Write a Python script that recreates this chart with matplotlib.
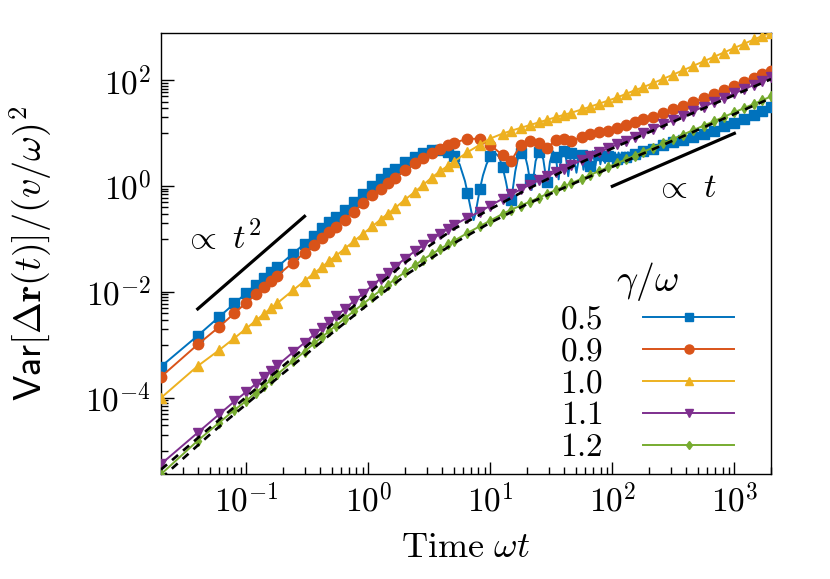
import numpy as np
import matplotlib
matplotlib.use("Agg")
import matplotlib.pyplot as plt
from matplotlib.ticker import FixedLocator, FuncFormatter, NullFormatter
from matplotlib.lines import Line2D

plt.rcParams['mathtext.fontset'] = 'cm'
plt.rcParams['font.family'] = ['DejaVu Serif']

# common sampling times (markers)
t = [0.02, 0.04, 0.06, 0.08, 0.10, 0.12, 0.14, 0.16, 0.18, 0.24, 0.30, 0.36,
     0.42, 0.48, 0.54, 0.64, 0.76, 0.90, 1.08, 1.26, 1.44, 1.64, 2.0, 2.4,
     2.8, 3.3, 3.9, 4.5, 5.0, 6.5, 8.2, 10.0, 12.6, 14.8, 17.7, 21.0, 25.0,
     29.4, 34.4, 40.0, 46.0, 56.0, 66.0, 78.0, 92.0, 110, 130, 152, 180, 215,
     260, 315, 380, 460, 560, 680, 820, 1000, 1200, 1450, 1700, 2000]

var_05 = [3.9e-4, 1.5e-3, 3.4e-3, 6.1e-3, 9.6e-3, 0.0138, 0.0187, 0.0244, 0.030,
          0.053, 0.082, 0.116, 0.16, 0.21, 0.26, 0.36, 0.50, 0.70, 1.03, 1.38,
          1.75, 2.13, 2.9, 3.6, 4.2, 4.8, 4.8, 4.4, 3.7, 0.75, 0.87, 3.7, 2.3,
          0.55, 4.3, 1.4, 4.4, 1.2, 3.6, 4.6, 4.2, 3.9, 2.4, 3.9, 3.7, 3.3, 3.6,
          4.0, 4.6, 5.0, 6.0, 6.8, 7.6, 8.6, 9.7, 11.3, 13.5, 16.0, 18.8, 22.5,
          26.5, 31.0]

# the gamma=0.5 curve oscillates between the sampled markers
t_05_osc = [5.0, 5.6, 6.2, 6.5, 6.8, 7.05, 7.3, 7.55, 7.85, 8.2, 8.7, 9.3, 10.0,
            10.9, 11.8, 12.6, 13.4, 14.0, 14.5, 14.8, 15.3, 16.0, 16.8, 17.7,
            18.3, 19.2, 20.2, 21.0, 21.8, 22.6, 23.5, 25.0, 25.6, 27.2, 28.3,
            29.0, 29.4, 30.8, 32.6, 34.4, 36.3, 38.0, 40.0, 41.8, 43.5, 46.0,
            47.2, 50.8, 54.4, 56.0, 58.0, 61.7, 65.3, 66.0, 68.9, 72.6, 76.2,
            78.0, 79.8, 83.4, 87.1, 90.7, 92.0, 94.3, 97.9, 101.6, 105.2, 108.8,
            110, 112.5, 116.1, 119.7, 123.3, 127.0, 130, 134.2, 137.8, 141.5,
            145.1, 148.7, 152, 156, 160, 165, 180, 215]
var_05_osc = [3.7, 2.6, 1.25, 0.75, 0.45, 0.30, 0.23, 0.30, 0.50, 0.87, 1.6, 2.6,
              3.7, 4.3, 3.6, 2.3, 1.25, 0.75, 0.48, 0.55, 0.9, 1.9, 3.3, 4.3,
              4.5, 3.9, 2.4, 1.4, 0.85, 1.5, 3.0, 4.4, 4.6, 3.2, 1.7, 1.1, 1.2,
              2.9, 4.6, 3.6, 1.35, 3.4, 4.6, 3.3, 1.55, 4.2, 4.65, 1.8, 4.65,
              3.9, 2.05, 4.6, 2.3, 2.4, 4.6, 2.45, 4.55, 3.9, 2.6, 4.5, 2.75,
              4.45, 3.7, 2.9, 4.4, 3.0, 4.35, 3.15, 3.3, 4.35, 3.3, 4.35, 3.45,
              4.35, 3.6, 4.4, 3.7, 4.45, 3.85, 4.5, 4.0, 4.55, 4.2, 4.5, 4.6, 5.0]

var_09 = [2.5e-4, 1.02e-3, 2.2e-3, 4.0e-3, 6.3e-3, 9.0e-3, 0.0125, 0.0163, 0.0205,
          0.036, 0.055, 0.078, 0.105, 0.137, 0.17, 0.235, 0.33, 0.48, 0.67, 0.88,
          1.14, 1.43, 2.0, 2.7, 3.4, 4.2, 5.1, 5.9, 6.6, 7.9, 7.9, 6.0, 3.9, 3.0,
          6.0, 7.2, 6.6, 5.3, 7.6, 7.9, 7.2, 8.6, 9.6, 10.5, 11.3, 12.6, 14.5,
          16.2, 18.3, 20.8, 24.3, 28.5, 33.5, 39.5, 47, 56, 66, 80, 95, 113, 132,
          153]

var_10 = [1.0e-4, 4.0e-4, 8.0e-4, 1.35e-3, 2.05e-3, 2.9e-3, 3.9e-3, 5.0e-3, 6.2e-3,
          0.0107, 0.0162, 0.0228, 0.030, 0.039, 0.048, 0.066, 0.091, 0.125, 0.175,
          0.235, 0.30, 0.38, 0.56, 0.78, 1.05, 1.45, 1.95, 2.45, 2.9, 4.4, 6.1,
          8.0, 9.9, 11.2, 12.7, 14.3, 16.2, 18.1, 20.2, 22.4, 24.5, 28.3, 32,
          36.5, 41.5, 48, 56, 65, 75, 89, 107, 129, 156, 189, 230, 280, 338, 412,
          494, 596, 700, 790]

var_11 = [5.6e-6, 2.2e-5, 4.9e-5, 8.6e-5, 1.3e-4, 1.85e-4, 2.5e-4, 3.25e-4, 4.1e-4,
          7.2e-4, 1.1e-3, 1.58e-3, 2.12e-3, 2.75e-3, 3.45e-3, 4.8e-3, 6.7e-3,
          9.3e-3, 0.0133, 0.018, 0.0233, 0.0298, 0.043, 0.059, 0.076, 0.099, 0.127,
          0.157, 0.183, 0.255, 0.33, 0.43, 0.58, 0.70, 0.87, 1.06, 1.3, 1.55,
          1.85, 2.15, 2.5, 3.1, 3.7, 4.4, 5.2, 6.2, 7.3, 8.6, 10.2, 12.2, 14.8,
          17.9, 21.6, 26.2, 31.9, 38.8, 46.8, 57, 68.5, 82.5, 96.8, 114]

var_12 = [3.6e-6, 1.55e-5, 3.4e-5, 5.9e-5, 8.8e-5, 1.26e-4, 1.7e-4, 2.2e-4, 2.8e-4,
          4.9e-4, 7.5e-4, 1.07e-3, 1.43e-3, 1.85e-3, 2.3e-3, 3.15e-3, 4.35e-3,
          5.9e-3, 8.2e-3, 0.0108, 0.0137, 0.0172, 0.0238, 0.032, 0.041, 0.052,
          0.066, 0.080, 0.092, 0.131, 0.175, 0.225, 0.30, 0.36, 0.43, 0.51, 0.61,
          0.72, 0.85, 0.99, 1.14, 1.39, 1.64, 1.94, 2.29, 2.74, 3.24, 3.79, 4.49,
          5.36, 6.49, 7.86, 9.49, 11.5, 14.0, 17.0, 20.5, 25.0, 30.0, 36.2, 42.5,
          50.0]

# black dashed reference curves
t_ref = [0.02, 0.05, 0.1, 0.2, 0.5, 1.0, 2.0, 5.0, 10, 20, 50, 100, 200, 500,
         1000, 2000]
ref_11 = [4.4e-6, 2.7e-5, 1.04e-4, 4.0e-4, 2.4e-3, 9.3e-3, 0.036, 0.155, 0.37,
          0.87, 2.55, 5.2, 10.5, 26.5, 53, 106]
ref_12 = [3.0e-6, 2.0e-5, 7.6e-5, 2.9e-4, 1.65e-3, 5.9e-3, 0.0205, 0.083, 0.205,
          0.46, 1.17, 2.33, 4.65, 11.6, 23.2, 46.5]

# power-law guides
guide2_t = [0.04, 0.3]
guide2_v = [0.0048, 0.27]
guide1_t = [100, 1000]
guide1_v = [1.0, 10.0]

labels = ['0.5', '0.9', '1.0', '1.1', '1.2']
colors = ['#0072BD', '#D95319', '#EDB120', '#7E2F8E', '#77AC30']
markers = ['s', 'o', '^', 'v', 'd']
msizes = [7, 7.5, 7, 7, 5.5]

fig = plt.figure(figsize=(8.3, 5.79), dpi=100)
ax = fig.add_axes([0.194, 0.181, 0.735, 0.762])

lw = 1.4
# gamma = 0.5: line through oscillation, markers at samples
t05_line = [x for x in t if x < 5.0] + t_05_osc + [x for x in t if x > 215]
v05_line = [v for x, v in zip(t, var_05) if x < 5.0] + var_05_osc + \
           [v for x, v in zip(t, var_05) if x > 215]
ax.plot(t05_line, v05_line, color=colors[0], lw=lw, zorder=3)
ax.plot(t, var_05, ls='none', marker='s', ms=msizes[0], color=colors[0], zorder=3)

for vals, c, m, ms in zip([var_09, var_10, var_11, var_12], colors[1:],
                          markers[1:], msizes[1:]):
    ax.plot(t, vals, color=c, lw=lw, marker=m, ms=ms, zorder=3)

ax.plot(t_ref, ref_11, color='k', ls=(0, (3, 2.5)), lw=1.9, zorder=4)
ax.plot(t_ref, ref_12, color='k', ls=(0, (3, 2.5)), lw=1.9, zorder=4)

ax.plot(guide2_t, guide2_v, color='k', lw=2.3)
ax.plot(guide1_t, guide1_v, color='k', lw=2.3)
ax.text(0.064, 0.105, r'$\propto\ t^2$', fontsize=25, ha='center', va='center')
ax.text(395, 0.95, r'$\propto\ t$', fontsize=25, ha='center', va='center')

ax.set_xscale('log')
ax.set_yscale('log')
ax.set_xlim(t[0], t[-1])
all_vals = var_05 + var_09 + var_10 + var_11 + var_12
ax.set_ylim(min(all_vals), max(all_vals))

fmt = FuncFormatter(lambda v, p: r'$10^{%d}$' % int(round(np.log10(v))))
ax.xaxis.set_major_locator(FixedLocator([1e-1, 1e0, 1e1, 1e2, 1e3]))
ax.xaxis.set_major_formatter(fmt)
xminor = [k * 10.0 ** e for e in range(-2, 4) for k in range(2, 10)]
ax.xaxis.set_minor_locator(FixedLocator(xminor))
ax.xaxis.set_minor_formatter(NullFormatter())

ax.yaxis.set_major_locator(FixedLocator([1e-4, 1e-2, 1e0, 1e2]))
ax.yaxis.set_major_formatter(fmt)
yminor = [k * 10.0 ** e for e in [-5, -3, -1, 1] for k in range(1, 10)]
ax.yaxis.set_minor_locator(FixedLocator(yminor))
ax.yaxis.set_minor_formatter(NullFormatter())

ax.tick_params(which='both', direction='in', top=False, right=False,
               labelsize=24, width=1.0)
ax.tick_params(which='major', length=9, pad=7)
ax.tick_params(which='minor', length=5)
for s in ax.spines.values():
    s.set_linewidth(1.0)

ax.set_xlabel(r'$\mathrm{Time}\ \omega t$', fontsize=26, labelpad=8)
ax.set_ylabel(r'$\mathsf{Var}[\Delta\mathbf{r}(t)]/(v/\omega)^2$', fontsize=27.5,
              labelpad=22)

handles = [Line2D([], [], color=c, lw=lw, marker=m, ms=ms - 1)
           for c, m, ms in zip(colors, markers, msizes)]
leg = ax.legend(handles, ['$%s$' % s for s in labels], loc='lower right',
                bbox_to_anchor=(0.94, 0.025), frameon=False, markerfirst=False,
                fontsize=24, title=r'$\gamma/\omega$', title_fontsize=27,
                handlelength=2.75, handletextpad=1.2, labelspacing=0.0,
                borderpad=0.0, borderaxespad=0.0)

fig.savefig('out.png', dpi=100)
